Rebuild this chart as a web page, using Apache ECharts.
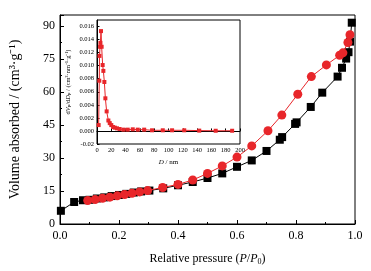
<!DOCTYPE html>
<html>
<head>
<meta charset="utf-8">
<script src="https://cdn.jsdelivr.net/npm/echarts@6/dist/echarts.min.js"></script>
<style>
  html, body { margin: 0; padding: 0; background: #fff; }
  #chart { width: 371px; height: 271px; }
</style>
</head>
<body>
<div id="chart"></div>
<script>
// isotherm, black squares
const blackX = [0.003, 0.048, 0.078, 0.1, 0.125, 0.15, 0.175, 0.2, 0.225, 0.25, 0.275, 0.303, 0.35, 0.4, 0.45, 0.5, 0.55, 0.6, 0.65, 0.7, 0.745, 0.753, 0.797, 0.802, 0.85, 0.889, 0.941, 0.956, 0.97, 0.978, 0.983, 0.989];
const blackY = [6, 10, 10.8, 11, 11.6, 12.1, 12.7, 13.2, 13.7, 14.3, 14.8, 15.2, 16.2, 17.6, 19.1, 20.9, 23, 26, 28.9, 33.2, 38.3, 39.5, 45.5, 46.2, 53.2, 59.7, 67, 71, 75.2, 78.1, 82.9, 91.5];

// isotherm, red circles
const redX = [0.094, 0.119, 0.144, 0.169, 0.194, 0.219, 0.244, 0.27, 0.297, 0.348, 0.4, 0.45, 0.5, 0.55, 0.6, 0.65, 0.705, 0.752, 0.806, 0.852, 0.903, 0.948, 0.959, 0.976, 0.983];
const redY = [10.7, 11.1, 11.7, 12.2, 12.8, 13.4, 14, 14.6, 15.2, 16.6, 18, 20, 23, 26.4, 30.4, 35.5, 42.4, 49.5, 59, 67, 72.3, 76.7, 77.8, 82.5, 86];

// inset pore size distribution
const poreD = [2.3, 3.2, 3.5, 4.3, 4.8, 5.6, 6.5, 7.9, 8.9, 10.3, 11.7, 13.5, 15.9, 17.8, 20, 22.5, 25, 28, 31.6, 37, 43, 50, 57, 66, 77, 92, 105, 122, 143, 166, 189];
const poreV = [0.0009, 0.0077, 0.0115, 0.0129, 0.0135, 0.0153, 0.0129, 0.0101, 0.0092, 0.0075, 0.005, 0.003, 0.0016, 0.0012, 0.0009, 0.0006, 0.0005, 0.0004, 0.0003, 0.0002, 0.0002, 0.00025, 0.0002, 0.0002, 0.0001, 0.0001, 0.0001, 0.0001, 0.00005, 0.00003, 0.00003];

const font = '"Liberation Serif", "Times New Roman", serif';
const red = "#e8262a";

const zip = (xs, ys) => xs.map((x, i) => [x, ys[i]]);

const chart = echarts.init(document.getElementById("chart"));

const baseAxis = {
  axisLine: { show: true, lineStyle: { color: "#000", width: 1 } },
  axisTick: { show: true, inside: true, length: 4, lineStyle: { color: "#000" } },
  minorTick: { show: true, splitNumber: 2, length: 2, lineStyle: { color: "#000" } },
  splitLine: { show: false },
};

chart.setOption({
  backgroundColor: "#fff",
  animation: false,
  textStyle: { fontFamily: font },
  grid: [
    { left: 55, right: 16, top: 15, bottom: 37, show: true, borderColor: "#000", borderWidth: 1 },
    { left: 97, right: 131, top: 20, bottom: 127, show: true, borderColor: "#000", borderWidth: 1, backgroundColor: "#fff", z: 5 },
  ],
  xAxis: [
    {
      ...baseAxis,
      gridIndex: 0,
      type: "value",
      min: 0,
      max: 1,
      interval: 0.2,
      axisLabel: { color: "#000", fontFamily: font, fontSize: 12, margin: 6, formatter: (v) => v.toFixed(1) },
      name: "Relative pressure ({i|P}/{i|P}{sub|0})",
      nameLocation: "middle",
      nameGap: 28,
      nameTextStyle: {
        color: "#000", fontFamily: font, fontSize: 12,
        rich: {
          i: { fontStyle: "italic", fontFamily: font, fontSize: 12, color: "#000" },
          sub: { fontFamily: font, fontSize: 8, color: "#000", verticalAlign: "bottom", padding: [6, 0, 0, 0] },
        },
      },
    },
    {
      ...baseAxis,
      gridIndex: 1,
      type: "value",
      min: 0,
      max: 200,
      interval: 20,
      axisTick: { show: true, inside: true, length: 2.5, lineStyle: { color: "#000" } },
      minorTick: { show: false },
      axisLabel: { color: "#000", fontFamily: font, fontSize: 6.5, margin: 3 },
      name: "{i|D} / nm",
      nameLocation: "middle",
      nameGap: 15,
      nameTextStyle: {
        color: "#000", fontFamily: font, fontSize: 7,
        rich: { i: { fontStyle: "italic", fontFamily: font, fontSize: 7, color: "#000" } },
      },
      z: 6,
    },
  ],
  yAxis: [
    {
      ...baseAxis,
      gridIndex: 0,
      type: "value",
      min: 0,
      max: 95,
      interval: 15,
      axisLabel: { color: "#000", fontFamily: font, fontSize: 12, margin: 5, showMaxLabel: false },
      name: "Volume absorbed / (cm³·g⁻¹)",
      nameLocation: "middle",
      nameGap: 38,
      nameTextStyle: { color: "#000", fontFamily: font, fontSize: 14 },
    },
    {
      ...baseAxis,
      gridIndex: 1,
      type: "value",
      min: -0.002,
      max: 0.017,
      interval: 0.002,
      axisTick: { show: true, inside: true, length: 2.5, lineStyle: { color: "#000" } },
      minorTick: { show: false },
      axisLabel: {
        color: "#000", fontFamily: font, fontSize: 6.5, margin: 3, showMaxLabel: false,
        formatter: (v) => (v < -0.001 ? "-0.02" : v.toFixed(3)),
      },
      name: "d{i|V}{sub|p}/d{i|D}{sub|p} / (cm³·nm⁻¹·g⁻¹)",
      nameLocation: "middle",
      nameGap: 25,
      nameTextStyle: {
        color: "#000", fontFamily: font, fontSize: 6.5,
        rich: {
          i: { fontStyle: "italic", fontFamily: font, fontSize: 6.5, color: "#000" },
          sub: { fontFamily: font, fontSize: 5, color: "#000" },
        },
      },
      z: 6,
    },
  ],
  series: [
    {
      type: "line",
      xAxisIndex: 0,
      yAxisIndex: 0,
      data: zip(blackX, blackY),
      symbol: "rect",
      symbolSize: 8,
      itemStyle: { color: "#000" },
      lineStyle: { color: "#000", width: 1 },
      z: 2,
    },
    {
      type: "line",
      xAxisIndex: 0,
      yAxisIndex: 0,
      data: zip(redX, redY),
      symbol: "circle",
      symbolSize: 9,
      itemStyle: { color: red },
      lineStyle: { color: red, width: 1 },
      z: 3,
    },
    {
      type: "line",
      xAxisIndex: 1,
      yAxisIndex: 1,
      data: zip(poreD, poreV),
      symbol: "rect",
      symbolSize: 4,
      itemStyle: { color: red },
      lineStyle: { color: red, width: 1 },
      z: 7,
    },
  ],
});
</script>
</body>
</html>
